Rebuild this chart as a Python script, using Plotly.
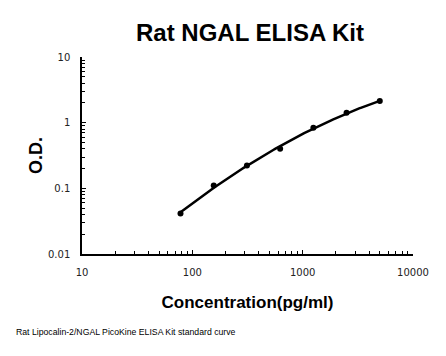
import numpy as np
import plotly.graph_objects as go

# Data
concentration = [78.125, 156.25, 312.5, 625, 1250, 2500, 5000]
od_values = [0.0415, 0.110, 0.222, 0.402, 0.837, 1.41, 2.13]
x_tick_vals = [10, 100, 1000, 10000]
x_tick_text = ["10", "100", "1000", "10000"]
y_tick_vals = [0.01, 0.1, 1, 10]
y_tick_text = ["0.01", "0.1", "1", "10"]

# Standard curve: quadratic fit in log-log space computed from the data
lx = np.log10(concentration)
ly = np.log10(od_values)
coef = np.polyfit(lx, ly, 2)
fit_lx = np.linspace(lx.min(), lx.max(), 200)
fit_x = 10 ** fit_lx
fit_y = 10 ** np.polyval(coef, fit_lx)

fig = go.Figure()
fig.add_trace(go.Scatter(x=fit_x, y=fit_y, mode="lines",
                         line=dict(color="black", width=2.5),
                         hoverinfo="skip", showlegend=False))
fig.add_trace(go.Scatter(x=concentration, y=od_values, mode="markers",
                         marker=dict(color="black", size=6),
                         showlegend=False))

W, H = 446, 356
L, R, T, B = 82, 33, 57, 102
pw, ph = W - L - R, H - T - B

tickfont = dict(family="DejaVu Sans", size=10, color="#222")
fig.update_layout(
    width=W, height=H,
    margin=dict(l=L, r=R, t=T, b=B),
    paper_bgcolor="white", plot_bgcolor="white",
    title=dict(text="<b>Rat NGAL ELISA Kit</b>", x=250 / W, xanchor="center",
               y=1 - 33 / H, yanchor="middle",
               font=dict(family="Liberation Sans, Arial", size=24, color="black")),
    xaxis=dict(type="log", range=[1, 4], tickvals=x_tick_vals, ticktext=x_tick_text,
               automargin=False,
               showline=True, linecolor="black", linewidth=1.5, mirror=False,
               ticks="inside", ticklen=4, tickcolor="black", tickwidth=1,
               showgrid=False, zeroline=False, tickfont=tickfont,
               ticklabelstandoff=8,
               minor=dict(ticks="inside", ticklen=3, tickcolor="black", dtick="D1", showgrid=False),
               title=dict(text="<b>Concentration(pg/ml)</b>", standoff=19,
                          font=dict(family="Liberation Sans, Arial", size=17, color="black"))),
    yaxis=dict(type="log", range=[-2, 1], tickvals=y_tick_vals, ticktext=y_tick_text,
               automargin=False,
               showline=True, linecolor="black", linewidth=1.5, mirror=False,
               ticks="inside", ticklen=4, tickcolor="black", tickwidth=1,
               showgrid=False, zeroline=False, tickfont=tickfont,
               ticklabelstandoff=8,
               minor=dict(ticks="inside", ticklen=3, tickcolor="black", dtick="D1", showgrid=False),
               title=dict(text="<b>O.D.</b>", standoff=1,
                          font=dict(family="Liberation Sans, Arial", size=18, color="black"))),
)
fig.add_annotation(text="Rat Lipocalin-2/NGAL PicoKine ELISA Kit standard curve",
                   xref="paper", yref="paper", x=(14 - L) / pw, xanchor="left",
                   y=-(332 - (T + ph)) / ph, yanchor="middle", showarrow=False,
                   font=dict(family="Liberation Sans, Arial", size=8.7, color="black"))

fig.write_html("out.html", config={"displayModeBar": False},
               post_script="document.body.style.margin='0';document.body.style.overflow='hidden';")
